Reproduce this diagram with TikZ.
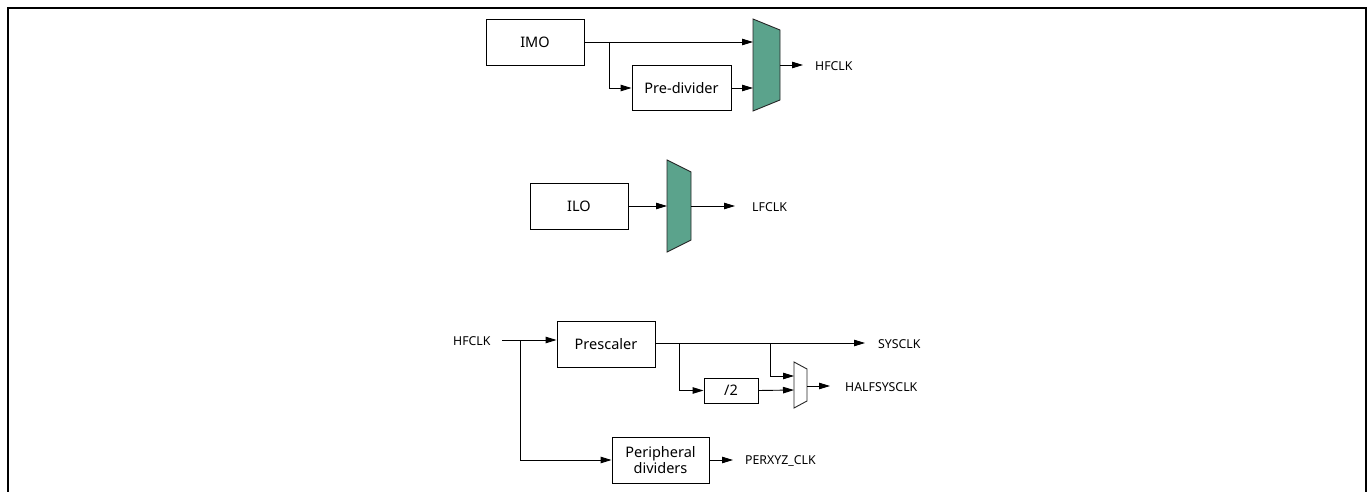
\documentclass[tikz,border=0pt]{standalone}
\usepackage{fontspec}
\setmainfont{Noto Sans}
\usetikzlibrary{arrows.meta,calc}
\definecolor{muxteal}{RGB}{91,163,140}
\begin{document}
\begin{tikzpicture}[x=1pt,y=-1pt,
  blk/.style={draw=black,line width=0.9pt,fill=white,inner sep=0pt,align=center,font=\fontsize{14.5}{17}\selectfont},
  lbl/.style={anchor=west,inner sep=0pt,font=\fontsize{12.3}{14}\selectfont},
  arr/.style={line width=0.9pt,-{Triangle[length=11pt,width=6.5pt]}},
  mux/.style={draw=black!85,line width=0.9pt,line join=miter}]
\useasboundingbox (0,0) rectangle (1369,492);
% frame
\draw[line width=2pt] (8,492) -- (8,8) -- (1366,8) -- (1366,492);

% ---- top: IMO / Pre-divider / mux -> HFCLK
\node[blk,minimum width=98pt,minimum height=46pt] (imo) at (535,42) {IMO};
\node[blk,minimum width=99pt,minimum height=45pt] (pre) at (681.5,88) {Pre-divider};
\draw[mux,fill=muxteal] (753,19) -- (780,30) -- (780,100) -- (753,111) -- cycle;
\coordinate (m1a) at (753,42);
\coordinate (m1b) at (753,88);
\coordinate (m1o) at (780,65);
\coordinate (m1e) at (803,65);
\node[lbl] (hf1) at (815,66) {HFCLK};
\draw[arr] (imo.east) -- (m1a);
\draw[arr] ($(imo.east)+(25,0)$) |- (pre.west);
\draw[arr] (pre.east) -- (m1b);
\draw[arr] (m1o) -- (m1e);

% ---- middle: ILO / mux -> LFCLK
\node[blk,minimum width=98pt,minimum height=46pt] (ilo) at (579,206) {ILO};
\draw[mux,fill=muxteal] (667,160) -- (691,172) -- (691,240) -- (667,252) -- cycle;
\coordinate (m2a) at (667,206);
\coordinate (m2o) at (691,206);
\coordinate (m2e) at (735,206);
\node[lbl] (lf) at (752,207) {LFCLK};
\draw[arr] (ilo.east) -- (m2a);
\draw[arr] (m2o) -- (m2e);

% ---- bottom: HFCLK -> Prescaler etc.
\node[lbl] (hf2) at (453,341) {HFCLK};
\node[blk,minimum width=98pt,minimum height=46pt] (psc) at (606,344) {Prescaler};
\node[blk,minimum width=54pt,minimum height=25pt] (div) at (731,390.5) {/2};
\node[blk,minimum width=97pt,minimum height=46pt] (per) at (660.5,460) {Peripheral\\[-1pt]dividers};
\draw[mux,fill=white] (794,362) -- (807,369) -- (807,401) -- (794,408) -- cycle;
\coordinate (m3a) at (794,376);
\coordinate (m3b) at (794,390);
\coordinate (m3o) at (807,386);
\coordinate (m3e) at (830,386);
\node[lbl] (sys) at (878,344) {SYSCLK};
\node[lbl] (half) at (845,387) {HALFSYSCLK};
\node[lbl] (perx) at (745,461) {PERXYZ\_CLK};
\coordinate (hin) at (502,340);
\coordinate (sysin) at (655,343);
\coordinate (syse) at (865,343);
\coordinate (pere) at (733,460);
\draw[arr] (hin) -- (hin -| psc.west);
\draw[arr] (520,340) |- (per.west);
\draw[arr] (sysin) -- (syse);
\draw[arr] (679,343) |- (div.west);
\draw[arr] (770,343) |- (m3a);
\draw[arr] (div.east) -- (m3b);
\draw[arr] (m3o) -- (m3e);
\draw[arr] (per.east) -- (pere);
\end{tikzpicture}
\end{document}
